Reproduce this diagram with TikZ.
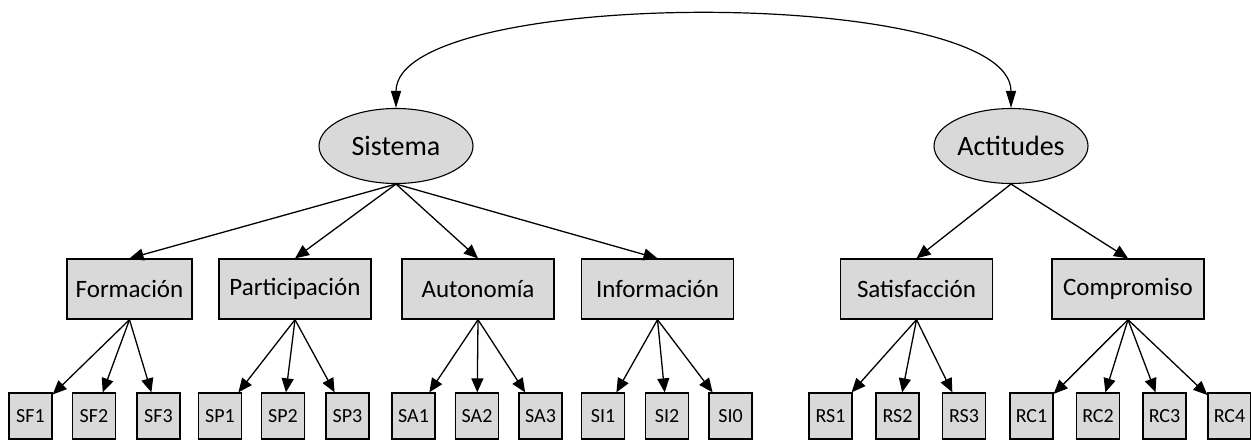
\documentclass[tikz,border=0pt]{standalone}
\usepackage{fontspec}
\setmainfont{Carlito}
\usetikzlibrary{arrows.meta,shapes.geometric}
\definecolor{boxgray}{RGB}{217,217,217}

\begin{document}
\begin{tikzpicture}[x=0.5pt,y=-0.5pt,
latent/.style={ellipse,draw,fill=boxgray,line width=0.55pt,inner sep=0pt,minimum width=77pt,minimum height=37.5pt,font=\fontsize{14}{16}\selectfont},
factor/.style={rectangle,draw,fill=boxgray,line width=0.65pt,inner sep=0pt,minimum width=76pt,minimum height=30pt,font=\fontsize{12.5}{14}\selectfont},
item/.style={rectangle,draw,fill=boxgray,line width=0.65pt,inner sep=0pt,minimum width=21.5pt,minimum height=23pt,font=\fontsize{10}{12}\selectfont},
load/.style={-{Triangle[length=7pt,width=6pt]},line width=0.65pt},
cov/.style={{Triangle[length=8.5pt,width=5pt]}-{Triangle[length=8.5pt,width=5pt]},line width=0.6pt}]
\useasboundingbox (0,0) rectangle (1251,440);
% latent variables
\node[latent] (sis) at (396,146) {Sistema};
\node[latent] (act) at (1011,146) {Actitudes};
\draw[cov] (sis.north) .. controls (396,-14) and (1011,-14) .. (act.north);
% factors
\node[factor,minimum width=62.5pt] (for) at (129.5,289) {Formación};
\node[factor] (par) at (295,289) {Participación};
\node[factor] (aut) at (478,289) {Autonomía};
\node[factor] (inf) at (657.5,289) {Información};
\node[factor] (sat) at (916.5,289) {Satisfacción};
\node[factor] (com) at (1128,289) {Compromiso};
\foreach \f in {for,par,aut,inf} \draw[load] (sis.south) -- (\f.north);
\foreach \f in {sat,com} \draw[load] (act.south) -- (\f.north);
% items
\foreach \n/\x/\f in {SF1/30.5/for,SF2/94/for,SF3/158.5/for,
  SP1/220/par,SP2/283/par,SP3/347.5/par,
  SA1/413.5/aut,SA2/477/aut,SA3/540.5/aut,
  SI1/603/inf,SI2/667/inf,SI0/730.5/inf,
  RS1/830.5/sat,RS2/897.5/sat,RS3/964/sat,
  RC1/1031.5/com,RC2/1098/com,RC3/1164.5/com,RC4/1229.5/com}{
  \node[item] (\n) at (\x,416) {\n};
  \draw[load] (\f.south) -- (\n);
}
\end{tikzpicture}
\end{document}
